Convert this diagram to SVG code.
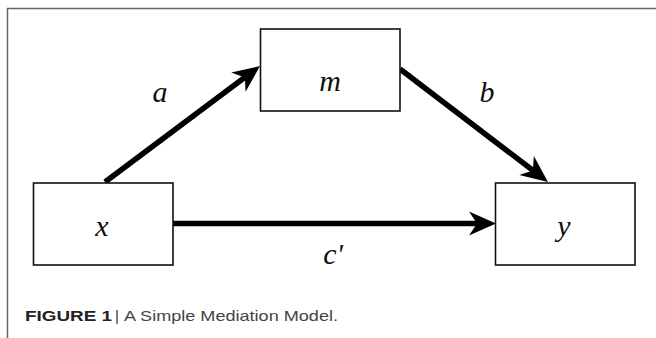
<svg xmlns="http://www.w3.org/2000/svg" width="656" height="338" viewBox="0 0 656 338">
<style>
.box{fill:#fff;stroke:#111;stroke-width:1.6}
.lbl{font-family:"Liberation Serif","Times New Roman",serif;font-style:italic;font-size:30px;fill:#111;text-anchor:middle}
.edge{stroke:#000;stroke-width:5.5;fill:none}
.cap{font-family:"Liberation Sans",Arial,sans-serif;font-size:15px}
</style>
<defs>
<marker id="ah" viewBox="-28 -13 30 26" refX="-18" refY="0" markerWidth="30" markerHeight="26" markerUnits="userSpaceOnUse" orient="auto">
<path d="M0,0 L-27,-12 L-19,0 L-27,12 Z" fill="#000"/>
</marker>
</defs>
<rect width="656" height="338" fill="#fff"/>
<path d="M7.5,338 V8.5 H656" fill="none" stroke="#666" stroke-width="1.5"/>
<g id="connectors">
<line class="edge" x1="105" y1="182" x2="245.6" y2="76.8" marker-end="url(#ah)"/>
<line class="edge" x1="400" y1="69" x2="533.7" y2="171" marker-end="url(#ah)"/>
<line class="edge" x1="173" y1="223.5" x2="478" y2="223.5" marker-end="url(#ah)"/>
<text class="lbl" x="160" y="102">a</text>
<text class="lbl" x="487" y="102">b</text>
<text class="lbl" x="333" y="264">c'</text>
</g>
<g id="node-m">
<rect class="box" x="260.5" y="29" width="139.5" height="82"/>
<text class="lbl" x="330" y="91">m</text>
</g>
<g id="node-x">
<rect class="box" x="33.5" y="183" width="139.5" height="82"/>
<text class="lbl" x="102" y="236">x</text>
</g>
<g id="node-y">
<rect class="box" x="495.5" y="183" width="139.5" height="82"/>
<text class="lbl" x="564" y="236">y</text>
</g>
<g id="caption">
<text class="cap" x="25" y="321" font-weight="bold" fill="#222" textLength="87" lengthAdjust="spacingAndGlyphs">FIGURE 1</text>
<text class="cap" x="115" y="321" fill="#333">|</text>
<text class="cap" x="124" y="321" fill="#444" textLength="214" lengthAdjust="spacingAndGlyphs">A Simple Mediation Model.</text>
</g>
</svg>
